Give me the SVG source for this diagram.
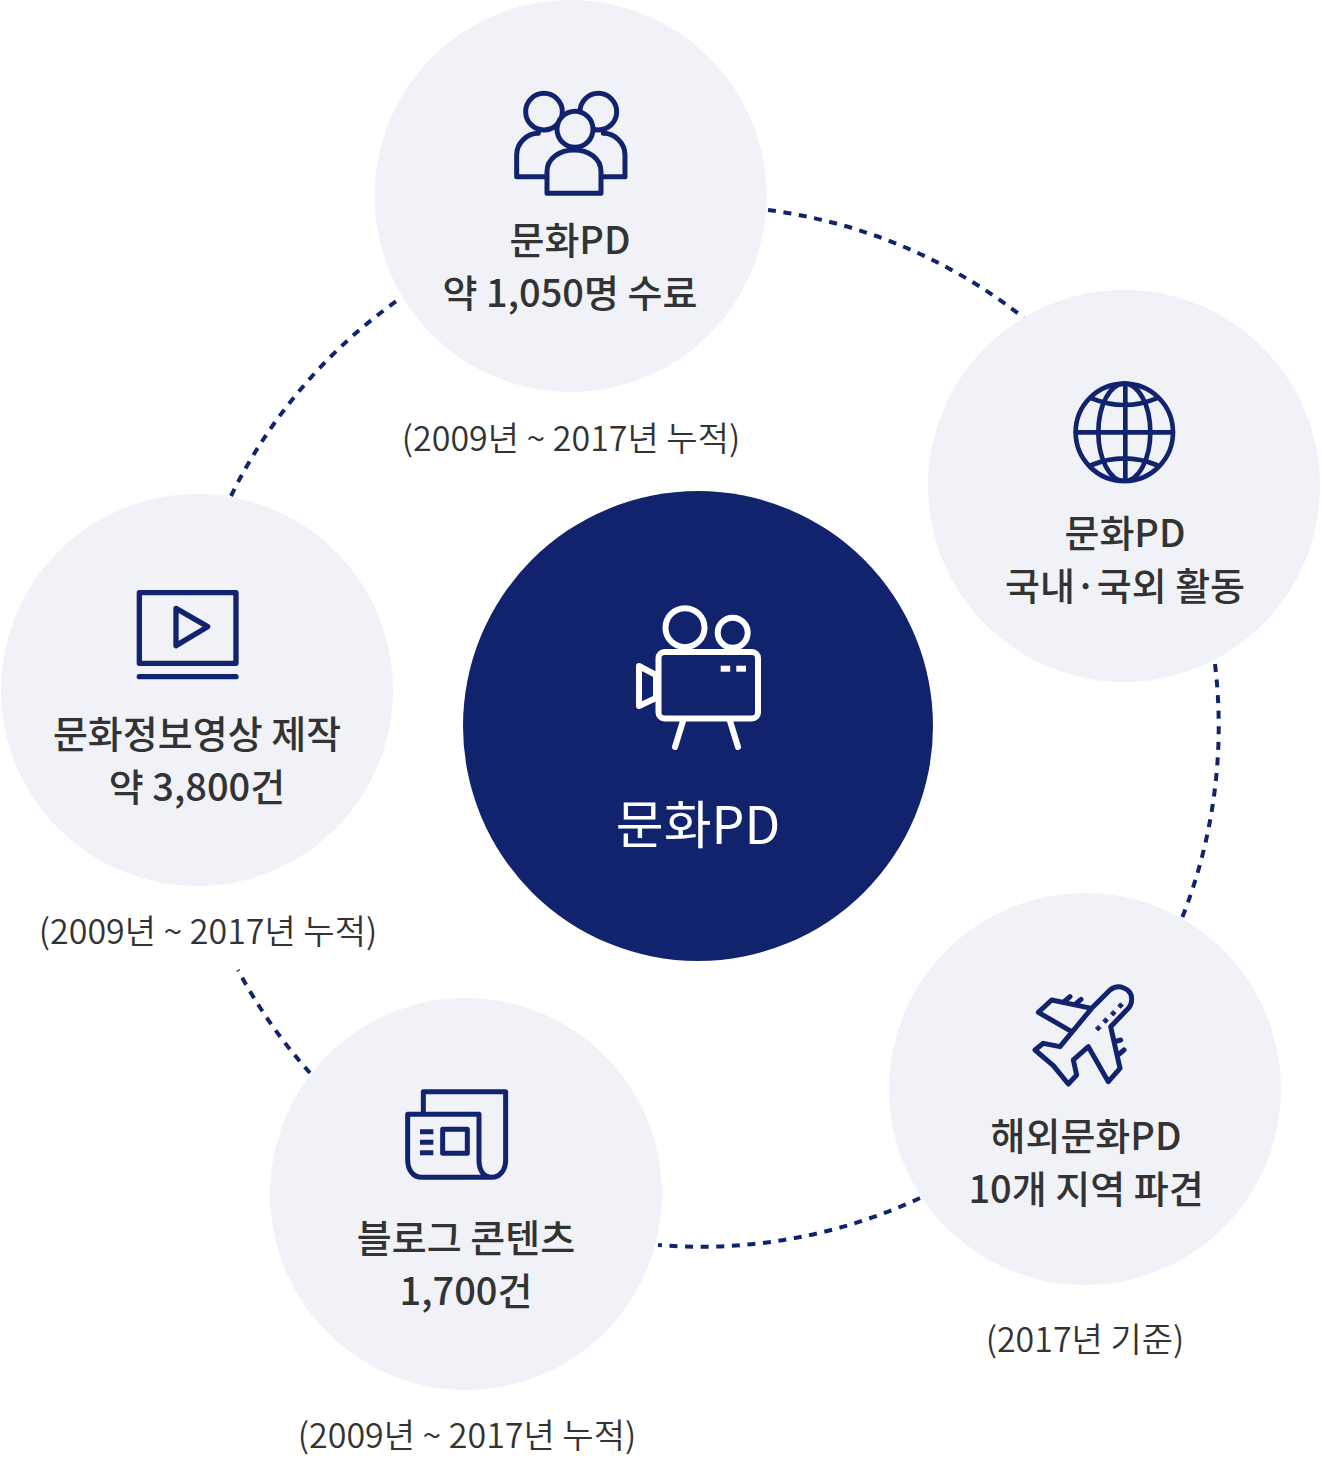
<svg xmlns="http://www.w3.org/2000/svg" width="1324" height="1469" viewBox="0 0 1324 1469">
<style>
text{font-family:"Noto Sans CJK KR","Noto Sans",sans-serif;text-anchor:middle;fill:#333}
.t{font-size:38px;font-weight:500}
.s{font-size:34px;font-weight:350}
.c{fill:#f0f2f8}
.i{fill:none;stroke:#12236d;stroke-linejoin:round;stroke-linecap:round}
.d{fill:none;stroke:#12236d;stroke-width:4;stroke-dasharray:8 7.6}
</style>
<rect width="1324" height="1469" fill="#fff"/>
<g id="connectors">
<path class="d" d="M768 210A520 520 0 0 1 1024 318"/>
<path class="d" d="M1215 664A520 520 0 0 1 1182 918"/>
<path class="d" d="M920 1198A520 520 0 0 1 658 1245"/>
<path class="d" d="M310 1073A520 520 0 0 1 238 970"/>
<path class="d" d="M231 496A520 520 0 0 1 398 300"/>
</g>
<g id="center">
<circle cx="698" cy="726" r="235" fill="#12236d"/>
<g fill="none" stroke="#fff" stroke-linejoin="round" stroke-linecap="round" stroke-width="6">
<circle cx="685" cy="627.7" r="19.5"/><circle cx="732.7" cy="632.7" r="15"/>
<rect x="658.5" y="652" width="99.5" height="66.5" rx="6"/>
<path d="M639 666L656 675V698L639 706ZM683 721L675 747M730 721L738 747"/>
</g>
<rect x="720.7" y="665.7" width="9.5" height="6" fill="#fff"/><rect x="736.3" y="665.7" width="9.7" height="6" fill="#fff"/>
<text x="698" y="844" font-size="52" style="fill:#fff;font-weight:400">문화PD</text>
</g>
<g id="node-graduates">
<circle class="c" cx="570.5" cy="196" r="196"/>
<g transform="translate(500 80) scale(.3333)" class="i" stroke-width="15">
<circle cx="132" cy="95" r="55"/><circle cx="295" cy="95" r="55"/>
<path d="M140 290H50V225C50 190 80 160 115 160M310 290H375V225C375 190 345 160 310 160"/>
<path class="c" style="stroke:#12236d" d="M141 340V275C141 235 180 210 222 210C265 210 303 235 303 275V340Z"/>
<circle cx="225" cy="148" r="54" style="fill:#f0f2f8"/>
</g>
<text class="t" x="570" y="254">문화PD</text><text class="t" x="570" y="307">약 1,050명 수료</text>
<text class="s" x="571" y="451">(2009년 ~ 2017년 누적)</text>
</g>
<g id="node-global">
<circle class="c" cx="1124" cy="486" r="196"/>
<g transform="translate(1060 370) scale(.3333)" class="i" stroke-width="14">
<circle cx="193" cy="187" r="146"/><ellipse cx="193" cy="187" rx="78" ry="146"/>
<path d="M196 41V333M47 187H339M95 85Q193 125 290 85M95 285Q193 245 290 285"/>
</g>
<text class="t" x="1125" y="547">문화PD</text><text class="t" x="1125" y="600">국내·국외 활동</text>
</g>
<g id="node-overseas">
<circle class="c" cx="1085" cy="1089" r="196"/>
<g transform="translate(1020 975) scale(.3333)" class="i" stroke-width="15">
<path d="M215 100L270 45C295 25 335 40 335 72C335 85 330 95 325 100L272 155L300 280L265 320L205 215L160 255L170 300L145 327L100 272L45 225L70 205L120 215ZM215 100L95 75L55 112L155 170M135 78L150 65M165 88L183 73M285 200L302 195M295 240L312 225"/>
<path d="M235 152l8 8l-8 8l-8-8zM257 129l8 8l-8 8l-8-8zM280 107l8 8l-8 8l-8-8zM302 84l8 8l-8 8l-8-8z" fill="#12236d" stroke-width="3"/>
</g>
<text class="t" x="1086" y="1150">해외문화PD</text><text class="t" x="1086" y="1203">10개 지역 파견</text>
<text class="s" x="1085" y="1352">(2017년 기준)</text>
</g>
<g id="node-blog">
<circle class="c" cx="466" cy="1194" r="196"/>
<g transform="translate(395 1080) scale(.3333)" class="i" stroke-width="15">
<path d="M85 98V35H332V240C332 270 315 292 290 292H80C55 292 38 270 38 240V103H252V240C252 270 265 292 290 292"/>
<path d="M75 155H115M75 187H115M75 218H115" stroke-linecap="butt"/>
<rect x="143" y="148" width="74" height="72"/>
</g>
<text class="t" x="466" y="1252">블로그 콘텐츠</text><text class="t" x="466" y="1305">1,700건</text>
<text class="s" x="467" y="1448">(2009년 ~ 2017년 누적)</text>
</g>
<g id="node-video">
<circle class="c" cx="197" cy="690" r="196"/>
<g transform="translate(125 580) scale(.3333)" class="i" stroke-width="16">
<rect x="43" y="38" width="290" height="212"/>
<path d="M153 85L248 140L153 197ZM43 290H333"/>
</g>
<text class="t" x="197" y="748">문화정보영상 제작</text><text class="t" x="197" y="801">약 3,800건</text>
<text class="s" x="208" y="944">(2009년 ~ 2017년 누적)</text>
</g>
</svg>
